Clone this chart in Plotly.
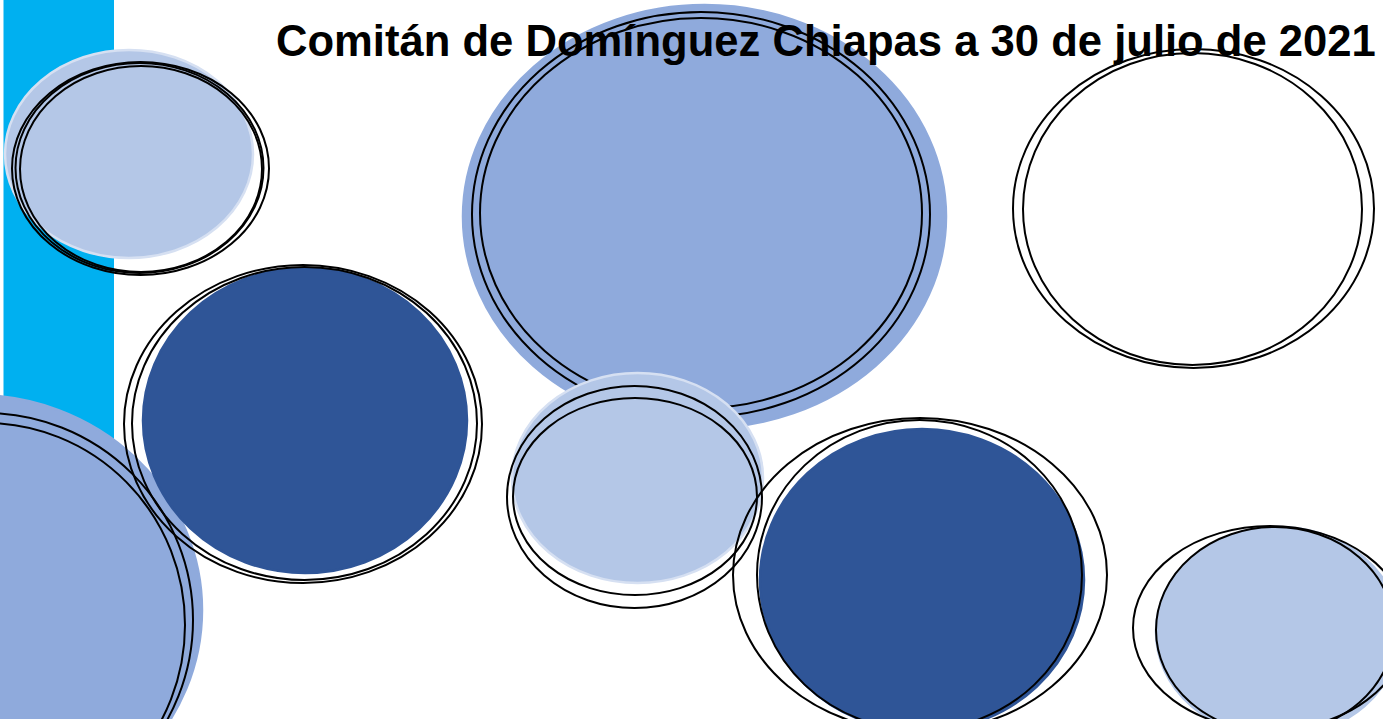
import plotly.graph_objects as go

W, H = 1383, 719

title_text = "Comitán de Domínguez Chiapas a 30 de julio de 2021"

# Decorative band (x0, x1, y0, y1) in page pixels
band = [3.5, 114, 0, 719]

# Filled discs: centre x, centre y, radius x, radius y, fill colour, edge colour
disc_names = ["upper_left", "lower_left", "left_dark", "big_mid", "mid_light", "right_dark", "bottom_right"]
disc_cx = [129, -25, 305, 704.5, 637.5, 922, 1278]
disc_cy = [154, 610, 420.5, 216.5, 478, 580, 632]
disc_rx = [124, 227, 162, 241.5, 125.5, 162, 122]
disc_ry = [104, 215, 152.5, 211.5, 105, 151, 105]
disc_fill = ["#B4C7E7", "#8FAADC", "#2F5597", "#8FAADC", "#B4C7E7", "#2F5597", "#B4C7E7"]
disc_edge = ["#D6E0F2", "#8FAADC", "#2F5597", "#8FAADC", "#D6E0F2", "#2F5597", "#B4C7E7"]

# Black outline rings: group (disc they belong to), centre, radii
ring_group = ["upper_left", "upper_left", "upper_left",
              "lower_left", "lower_left",
              "left_dark", "left_dark",
              "big_mid", "big_mid",
              "mid_light", "mid_light",
              "right_dark", "right_dark",
              "upper_right", "upper_right",
              "bottom_right", "bottom_right"]
ring_cx = [140.5, 139.5, 141, -15, -15, 303, 304.5, 701, 701, 634.5, 635, 920, 919.5, 1193.5, 1192.5, 1270, 1275]
ring_cy = [168.5, 168, 169, 620, 625, 424, 423.5, 214.5, 213, 497, 496.5, 575, 575, 208.5, 209, 628, 630]
ring_rx = [128.5, 124, 121, 208, 200, 179, 172.5, 229, 221, 127.5, 122, 187, 162.5, 180.5, 169.5, 137, 119]
ring_ry = [106.5, 105, 103, 207, 202, 159, 156.5, 202.5, 195, 111, 98.5, 157, 155, 159.5, 156, 102, 103]

draw_order = ["upper_left", "lower_left", "left_dark", "big_mid", "mid_light",
              "right_dark", "upper_right", "bottom_right"]

fig = go.Figure()
# invisible trace to establish axes
fig.add_trace(go.Scatter(x=[0, W], y=[0, H], mode="markers",
                         marker=dict(opacity=0), hoverinfo="skip", showlegend=False))

shapes = []
shapes.append(dict(type="rect", xref="x", yref="y", x0=band[0], x1=band[1], y0=band[2], y1=band[3],
                   fillcolor="#00B0F0", line=dict(width=0), layer="above"))

for g in draw_order:
    if g in disc_names:
        i = disc_names.index(g)
        shapes.append(dict(type="circle", xref="x", yref="y",
                           x0=disc_cx[i] - disc_rx[i], x1=disc_cx[i] + disc_rx[i],
                           y0=disc_cy[i] - disc_ry[i], y1=disc_cy[i] + disc_ry[i],
                           fillcolor=disc_fill[i], line=dict(color=disc_edge[i], width=2.5),
                           layer="above"))
    for j, rg in enumerate(ring_group):
        if rg == g:
            shapes.append(dict(type="circle", xref="x", yref="y",
                               x0=ring_cx[j] - ring_rx[j], x1=ring_cx[j] + ring_rx[j],
                               y0=ring_cy[j] - ring_ry[j], y1=ring_cy[j] + ring_ry[j],
                               fillcolor="rgba(0,0,0,0)", line=dict(color="black", width=2),
                               layer="above"))

fig.update_layout(
    width=W, height=H,
    margin=dict(l=0, r=0, t=0, b=0),
    paper_bgcolor="white", plot_bgcolor="white",
    xaxis=dict(range=[0, W], visible=False, fixedrange=True),
    yaxis=dict(range=[H, 0], visible=False, fixedrange=True),
    shapes=shapes,
    showlegend=False,
    annotations=[dict(text="<b>" + title_text + "</b>", xref="x", yref="y",
                      x=274, y=41, xanchor="left", yanchor="middle", showarrow=False,
                      font=dict(family="Liberation Sans, Arial, sans-serif", size=43.6, color="black"))],
)

fig.write_html("out.html", config={"displayModeBar": False},
               post_script="document.body.style.margin='0';document.body.style.overflow='hidden';")
